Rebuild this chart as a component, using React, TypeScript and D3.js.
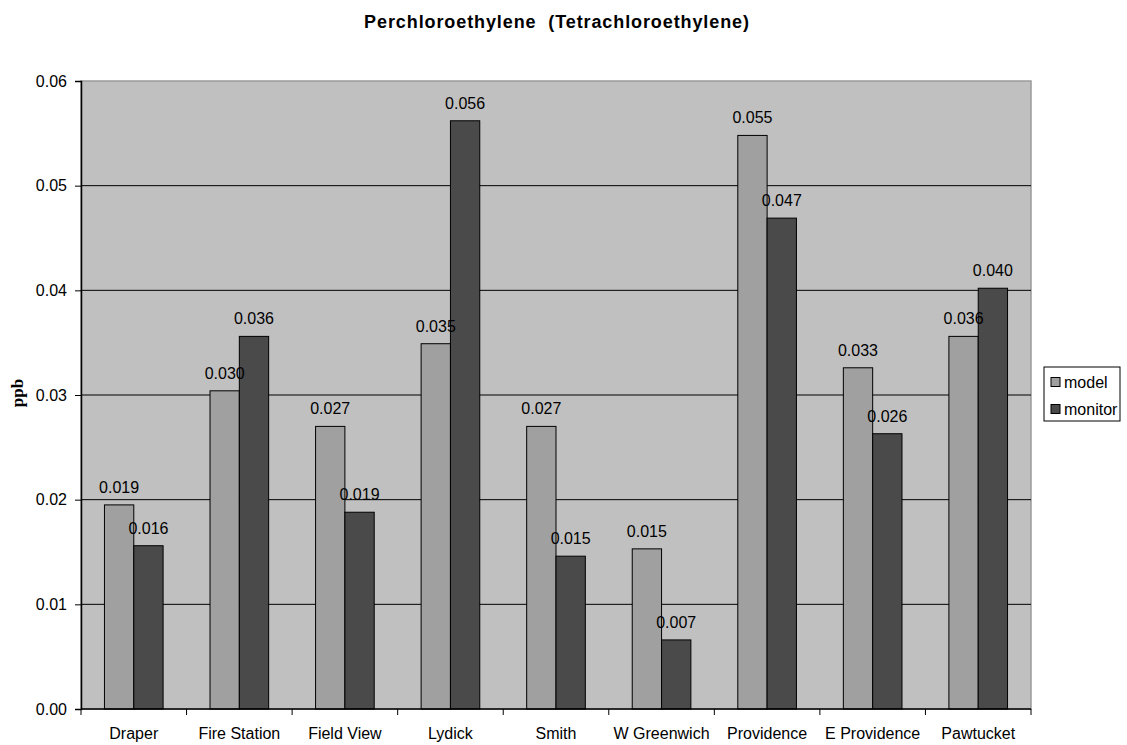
import React, { useEffect, useRef } from "react";
import * as d3 from "d3";

const categories = ["Draper", "Fire Station", "Field View", "Lydick", "Smith", "W Greenwich", "Providence", "E Providence", "Pawtucket"];
const modelValues = [0.0195, 0.0304, 0.0270, 0.0349, 0.0270, 0.0153, 0.0548, 0.0326, 0.0356];
const monitorValues = [0.0156, 0.0356, 0.0188, 0.0562, 0.0146, 0.0066, 0.0469, 0.0263, 0.0402];
const seriesNames = ["model", "monitor"];
const seriesColors = ["#a0a0a0", "#4a4a4a"];
const yTicks = [0, 0.01, 0.02, 0.03, 0.04, 0.05, 0.06];

const W = 1127, H = 745;
const M = { left: 81, top: 81, right: 1031, bottom: 709 };
const FONT = "Arial, 'Liberation Sans', sans-serif";

export default function App() {
  const ref = useRef<SVGSVGElement>(null);
  useEffect(() => {
    const svg = d3.select(ref.current);
    svg.selectAll("*").remove();
    const x = d3.scaleBand().domain(categories).range([M.left, M.right]).paddingInner(0).paddingOuter(0);
    const bw = x.bandwidth();
    const barW = bw / 3.6;
    const gap = (bw - 2 * barW) / 2;
    const y = d3.scaleLinear().domain([0, 0.06]).range([M.bottom, M.top]);

    svg.append("rect").attr("x", M.left).attr("y", M.top).attr("width", M.right - M.left).attr("height", M.bottom - M.top)
      .attr("fill", "#c0c0c0").attr("stroke", "#9a9a9a").attr("stroke-width", 1.5);

    svg.append("g").selectAll("line").data(yTicks.slice(1, -1)).join("line")
      .attr("x1", M.left).attr("x2", M.right).attr("y1", d => y(d)).attr("y2", d => y(d))
      .attr("stroke", "#000").attr("stroke-width", 1);

    const seriesData = [modelValues, monitorValues];
    seriesData.forEach((vals, si) => {
      svg.append("g").selectAll("rect").data(vals).join("rect")
        .attr("x", (d, i) => x(categories[i])! + gap + si * barW)
        .attr("y", d => y(d))
        .attr("width", barW)
        .attr("height", d => M.bottom - y(d))
        .attr("fill", seriesColors[si]).attr("stroke", "#000").attr("stroke-width", 1);
    });
    seriesData.forEach((vals, si) => {
      svg.append("g").selectAll("text").data(vals).join("text")
        .attr("x", (d, i) => x(categories[i])! + gap + si * barW + barW / 2)
        .attr("y", d => y(d) - 12)
        .attr("text-anchor", "middle").attr("font-family", FONT).attr("font-size", 16).attr("fill", "#000")
        .text(d => d3.format(".3f")(d));
    });

    // axes
    const yAxis = svg.append("g").attr("transform", `translate(${M.left},0)`)
      .call(d3.axisLeft(y).tickValues(yTicks).tickFormat(d3.format(".2f")).tickSize(6).tickPadding(8));
    yAxis.select(".domain").attr("stroke", "#000").attr("stroke-width", 1.5);
    yAxis.selectAll("line").attr("stroke", "#000");
    yAxis.selectAll("text").attr("font-family", FONT).attr("font-size", 16).attr("fill", "#000");

    const xAxis = svg.append("g").attr("transform", `translate(0,${M.bottom})`);
    xAxis.append("line").attr("x1", M.left).attr("x2", M.right).attr("stroke", "#000").attr("stroke-width", 1.5);
    const bounds = d3.range(categories.length + 1).map(i => M.left + i * bw);
    xAxis.selectAll("line.tk").data(bounds).join("line").attr("class", "tk")
      .attr("x1", d => d).attr("x2", d => d).attr("y1", 0).attr("y2", 6).attr("stroke", "#000");
    xAxis.selectAll("text").data(categories).join("text")
      .attr("x", d => x(d)! + bw / 2).attr("y", 30)
      .attr("text-anchor", "middle").attr("font-family", FONT).attr("font-size", 16).attr("fill", "#000")
      .text(d => d);

    svg.append("text").attr("x", 557).attr("y", 28).attr("text-anchor", "middle")
      .attr("font-family", FONT).attr("font-size", 18).attr("font-weight", "bold")
      .attr("letter-spacing", 0.9)
      .style("white-space", "pre")
      .text("Perchloroethylene  (Tetrachloroethylene)");

    svg.append("text").attr("transform", "translate(23,393) rotate(-90)").attr("text-anchor", "middle")
      .attr("font-family", "'Liberation Serif', 'Times New Roman', serif").attr("font-size", 17).attr("font-weight", "bold")
      .text("ppb");

    const lg = svg.append("g");
    lg.append("rect").attr("x", 1044).attr("y", 367).attr("width", 76).attr("height", 54)
      .attr("fill", "#fff").attr("stroke", "#000").attr("stroke-width", 1);
    seriesNames.forEach((n, i) => {
      const cy = 382 + i * 27;
      lg.append("rect").attr("x", 1051).attr("y", cy - 4.5).attr("width", 9).attr("height", 9)
        .attr("fill", seriesColors[i]).attr("stroke", "#000");
      lg.append("text").attr("x", 1064).attr("y", cy + 5.5).attr("font-family", FONT).attr("font-size", 16).text(n);
    });
  }, []);
  return <svg ref={ref} width={W} height={H} style={{ position: "absolute", left: 0, top: 0 }} />;
}
